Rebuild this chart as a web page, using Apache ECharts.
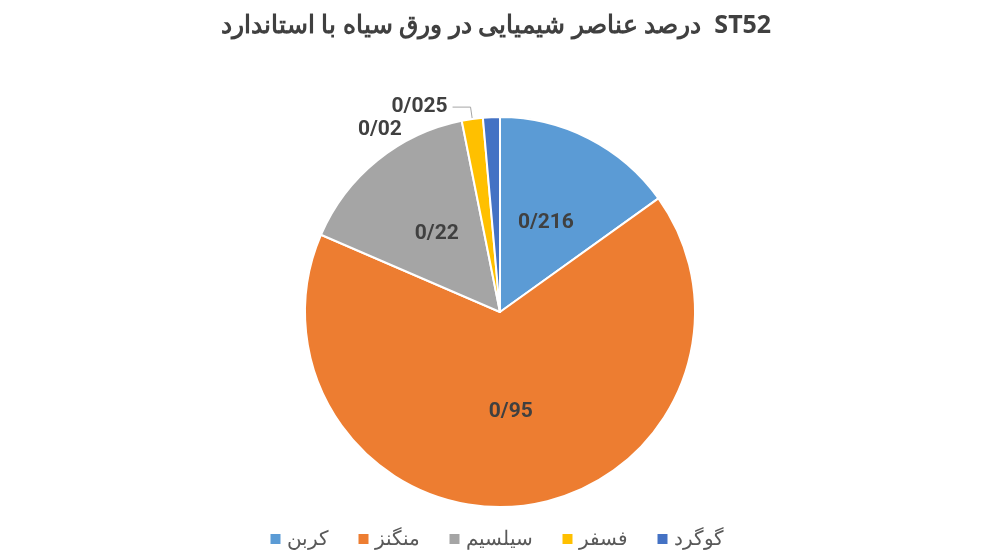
<!DOCTYPE html>
<html><head><meta charset="utf-8">
<script src="https://cdn.jsdelivr.net/npm/echarts@6/dist/echarts.min.js"></script>
<style>html,body{margin:0;padding:0;background:#fff}#c{width:992px;height:558px}</style>
</head><body><div id="c"></div>
<script>
const categories = ['کربن','منگنز','سیلسیم','فسفر','گوگرد'];
const values = [0.216, 0.95, 0.22, 0.025, 0.02];
const colors = ['#5B9BD5','#ED7D31','#A5A5A5','#FFC000','#4472C4'];
const chart = echarts.init(document.getElementById('c'));
const fmt = p => String(p.value).replace('.', '/');
const data = categories.map((n,i)=>{
  const d = {name:n, value:values[i], itemStyle:{color:colors[i]}};
  if (i===3) d.label = {position:'outside', distance:10};
  if (i===3) d.labelLine = {show:true, length:12, length2:18, lineStyle:{color:'#A5A5A5'}};
  if (i===4) { d.label = {position:'outside'}; d.labelLine = {show:false, length:8, length2:0}; }
  return d;
});
chart.setOption({
  title:{text:'درصد عناصر شیمیایی در ورق سیاه با استاندارد  ST52', left:'center', top:8,
    textStyle:{fontFamily:'Noto Sans', fontSize:25, fontWeight:'bold', color:'#404040'}},
  legend:{bottom:4, left:'center', itemWidth:12, itemHeight:12, itemGap:28, icon:'rect',
    textStyle:{fontFamily:'Noto Sans', fontSize:20, color:'#595959'}},
  series:[{type:'pie', center:[500,312], radius:195, startAngle:90, clockwise:true,
    itemStyle:{borderColor:'#fff', borderWidth:2},
    label:{show:true, position:'inside', formatter:fmt, fontFamily:'Roboto', fontSize:21, fontWeight:'bold', color:'#404040'},
    labelLine:{show:false},
    data:data}]
});
</script></body></html>
